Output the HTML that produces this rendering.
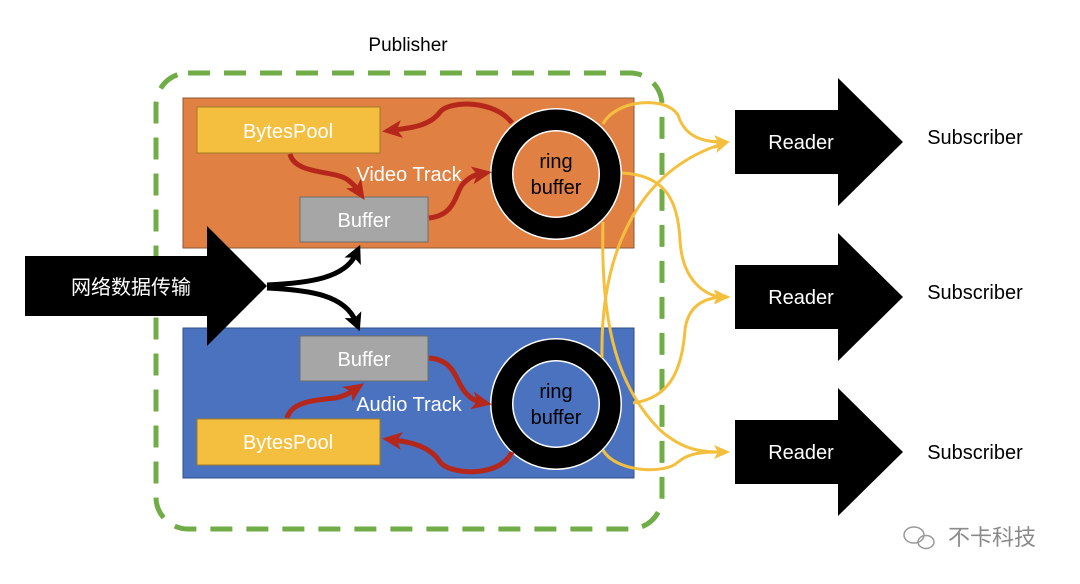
<!DOCTYPE html>
<html><head><meta charset="utf-8"><style>
html,body{margin:0;padding:0;background:#fff;}
svg{display:block;}
text{font-family:"Liberation Sans","Noto Sans CJK SC",sans-serif;}
</style></head><body>
<svg width="1080" height="584" viewBox="0 0 1080 584" xmlns="http://www.w3.org/2000/svg">
<defs>
<marker id="ar" markerWidth="20" markerHeight="20" refX="8" refY="10" orient="auto" markerUnits="userSpaceOnUse"><path d="M0,1 L20,10 L0,19 L5,10 Z" fill="#b5261b"/></marker>
<marker id="ab" markerWidth="18" markerHeight="18" refX="8" refY="9" orient="auto" markerUnits="userSpaceOnUse"><path d="M0,0 L18,9 L0,18 L4,9 Z" fill="#000"/></marker>
<marker id="ay" markerWidth="16" markerHeight="16" refX="8" refY="8" orient="auto" markerUnits="userSpaceOnUse"><path d="M0,1 L16,8 L0,15 L4,8 Z" fill="#f5bf3e"/></marker>
</defs>
<text x="408" y="51" font-size="19" text-anchor="middle" fill="#000">Publisher</text>
<rect x="183" y="98" width="451" height="150" fill="#e08043" stroke="#8b5a35" stroke-width="1"/>
<rect x="183" y="328" width="451" height="150" fill="#4a72bf" stroke="#2f4f8a" stroke-width="1"/>
<rect x="156" y="73" width="506" height="456" rx="32" fill="none" stroke="#71ad47" stroke-width="5" stroke-dasharray="22,14"/>
<rect x="197" y="107" width="183" height="46" fill="#f4be3e" stroke="#a07a26"/>
<text x="288" y="138" font-size="20" fill="#fff" text-anchor="middle">BytesPool</text>
<rect x="300" y="197" width="128" height="45" fill="#a6a6a6" stroke="#6d6d6d"/>
<text x="364" y="227" font-size="20" fill="#fff" text-anchor="middle">Buffer</text>
<text x="409" y="181" font-size="20" fill="#fff" text-anchor="middle">Video Track</text>
<rect x="300" y="336" width="128" height="45" fill="#a6a6a6" stroke="#6d6d6d"/>
<text x="364" y="366" font-size="20" fill="#fff" text-anchor="middle">Buffer</text>
<rect x="197" y="419" width="183" height="46" fill="#f4be3e" stroke="#a07a26"/>
<text x="288" y="449" font-size="20" fill="#fff" text-anchor="middle">BytesPool</text>
<text x="409" y="411" font-size="20" fill="#fff" text-anchor="middle">Audio Track</text>
<circle cx="556" cy="174" r="66" fill="#fff"/><circle cx="556" cy="174" r="64.5" fill="#000"/><circle cx="556" cy="174" r="44" fill="#fff"/><circle cx="556" cy="174" r="42.5" fill="#e08043"/>
<text x="556" y="168" font-size="20" text-anchor="middle">ring</text><text x="556" y="194" font-size="20" text-anchor="middle">buffer</text>
<circle cx="556" cy="404" r="66" fill="#fff"/><circle cx="556" cy="404" r="64.5" fill="#000"/><circle cx="556" cy="404" r="44" fill="#fff"/><circle cx="556" cy="404" r="42.5" fill="#4a72bf"/>
<text x="556" y="398" font-size="20" text-anchor="middle">ring</text><text x="556" y="424" font-size="20" text-anchor="middle">buffer</text>
<g fill="none" stroke="#b5261b" stroke-width="5">
<path d="M512,123 C495,100 450,100 440,112 C430,126 410,128 394,130" marker-end="url(#ar)"/>
<path d="M290,154 C295,175 335,170 348,180 C353,184 356,187 358,190" marker-end="url(#ar)"/>
<path d="M429,218 C455,215 455,195 462,185 C468,178 474,175 480,174" marker-end="url(#ar)"/>
<path d="M287,418 C292,400 320,400 335,398 C342,397 348,394 354,390" marker-end="url(#ar)"/>
<path d="M429,358 C455,360 455,380 465,392 C470,398 475,401 480,402" marker-end="url(#ar)"/>
<path d="M512,452 C500,478 450,475 440,462 C430,446 410,442 394,440" marker-end="url(#ar)"/>
</g>
<path d="M25,256 L207,256 L207,226 L267,286 L207,346 L207,316 L25,316 Z" fill="#000"/>
<text x="131" y="294" font-size="20" fill="#fff" text-anchor="middle">网络数据传输</text>
<g fill="none" stroke="#000" stroke-width="5">
<path d="M267,285 C310,283 345,278 356,254" marker-end="url(#ab)"/>
<path d="M267,288 C310,290 345,295 356,322" marker-end="url(#ab)"/>
</g>
<g fill="none" stroke="#f5bf3e" stroke-width="3">
<path d="M603,124 C615,100 665,95 678,115 C685,138 705,142 722,142" marker-end="url(#ay)"/>
<path d="M622,173 C665,175 678,200 680,240 C682,280 705,296 722,297" marker-end="url(#ay)"/>
<path d="M603,222 C600,330 620,390 660,430 C685,452 705,452 722,452" marker-end="url(#ay)"/>
<path d="M602,358 C600,250 640,170 722,144" marker-end="url(#ay)"/>
<path d="M633,403 C670,398 682,370 685,330 C688,305 705,298 722,297" marker-end="url(#ay)"/>
<path d="M603,450 C615,472 665,475 678,462 C690,452 705,452 722,452" marker-end="url(#ay)"/>
</g>
<g fill="#000">
<path d="M735,110 L838,110 L838,78 L903,142 L838,206 L838,174 L735,174 Z"/>
<path d="M735,265 L838,265 L838,233 L903,297 L838,361 L838,329 L735,329 Z"/>
<path d="M735,420 L838,420 L838,388 L903,452 L838,516 L838,484 L735,484 Z"/>
</g>
<g font-size="20" fill="#fff" text-anchor="middle">
<text x="801" y="149">Reader</text><text x="801" y="304">Reader</text><text x="801" y="459">Reader</text>
</g>
<g font-size="20" fill="#000" text-anchor="middle">
<text x="975" y="144">Subscriber</text><text x="975" y="299">Subscriber</text><text x="975" y="459">Subscriber</text>
</g>
<g fill="none" stroke="#999" stroke-width="1.5"><ellipse cx="914" cy="535" rx="10" ry="8"/><ellipse cx="926" cy="542" rx="8" ry="6.5"/></g>
<text x="992" y="545" font-size="22" fill="#8a8a8a" text-anchor="middle">不卡科技</text>
</svg>
</body></html>
